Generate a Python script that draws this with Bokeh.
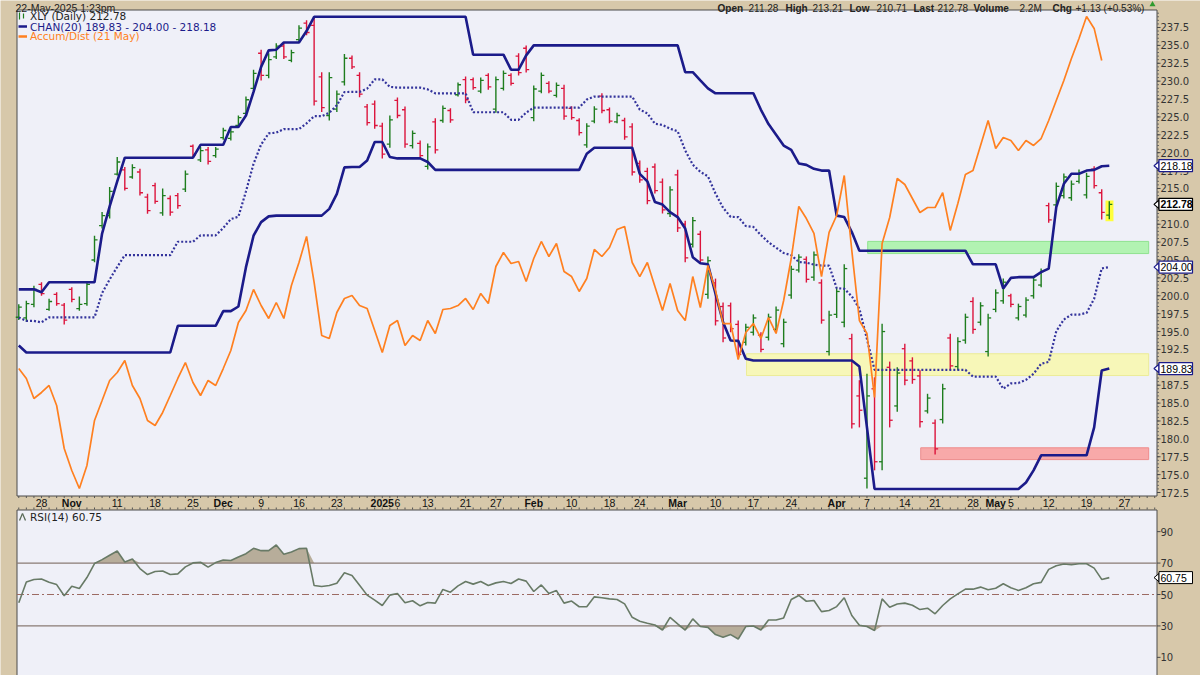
import numpy as np
from bokeh.plotting import figure
from bokeh.models import Range1d, ColumnDataSource
from bokeh.core.properties import value
from bokeh.embed import file_html
from bokeh.resources import INLINE

# ---------------- data ----------------
# trading-day index: 0 = Mon 28 Oct 2024 ... 141 = Thu 22 May 2025
day = np.arange(-3, 142)

opens = [197.0, 196.9, 198.8, 201.6, 198.1, 200.2, 198.7, 200.9, 198.2, 198.9,
         205.0, 209.8, 211.2, 217.0, 217.6, 216.6, 217.3, 213.8, 215.4, 211.6,
         213.6, 214.0, 214.9, 220.9, 219.0, 220.4, 219.6, 222.1, 222.0, 223.8,
         225.5, 229.0, 233.9, 230.8, 233.4, 234.9, 232.9, 235.8, 238.1, 237.8,
         230.6, 225.2, 226.1, 229.9, 233.2, 230.8, 226.4, 226.8, 223.7, 221.2,
         227.3, 226.0, 221.0, 221.3, 218.1, 224.3, 224.5, 225.9, 228.1, 230.2,
         230.2, 228.6, 230.8, 226.1, 229.0, 230.8, 233.5, 234.6, 224.9, 228.6,
         229.7, 228.0, 229.0, 226.2, 224.5, 221.1, 224.4, 227.9, 226.0, 224.3,
         224.5, 223.6, 218.5, 217.4, 218.0, 215.9, 211.5, 216.9, 210.0, 207.2,
         208.6, 200.2, 201.8, 198.5, 198.6, 196.0, 193.5, 194.9, 194.5, 194.2,
         195.3, 193.3, 200.1, 203.6, 205.1, 202.6, 201.8, 192.2, 197.4, 196.3,
         194.0, 186.0, 174.5, 187.0, 176.8, 190.0, 184.6, 192.6, 190.9, 188.8,
         183.9, 182.2, 182.7, 194.1, 190.1, 193.8, 199.2, 196.3, 192.2, 198.1,
         199.3, 200.0, 196.9, 197.3, 200.0, 201.5, 212.6, 212.7, 214.0, 213.7,
         216.0, 214.1, 217.7, 214.4, 211.28]
highs = [198.8, 199.3, 201.4, 201.9, 199.6, 200.5, 199.0, 201.2, 199.9, 201.9,
         208.4, 211.7, 215.2, 219.4, 218.0, 218.4, 217.75, 214.25, 215.8, 215.0,
         214.0, 214.35, 217.5, 221.15, 220.8, 220.8, 220.8, 223.5, 223.35, 225.2,
         227.85, 231.6, 234.4, 233.9, 235.3, 235.3, 234.4, 237.8, 238.5, 238.9,
         231.25, 231.25, 228.7, 233.8, 233.6, 231.25, 226.8, 227.3, 224.2, 225.2,
         227.7, 226.45, 223.1, 221.7, 221.3, 224.8, 226.6, 226.2, 229.8, 230.65,
         230.5, 230.5, 231.1, 230.65, 231.5, 231.1, 233.9, 235.0, 229.4, 231.2,
         230.0, 229.8, 229.5, 226.5, 224.8, 224.1, 226.5, 228.3, 226.3, 225.6,
         224.9, 224.1, 218.9, 217.9, 218.5, 216.4, 215.3, 217.6, 210.5, 211.0,
         209.1, 205.5, 202.4, 199.05, 199.05, 196.55, 196.1, 197.4, 194.9, 197.5,
         198.5, 196.8, 204.2, 205.8, 205.5, 206.2, 202.3, 197.9, 201.15, 204.4,
         194.7, 188.2, 189.1, 188.6, 196.1, 190.8, 190.0, 193.3, 191.4, 189.6,
         186.3, 182.7, 187.7, 194.7, 194.2, 197.5, 199.8, 199.1, 197.5, 200.9,
         202.4, 200.3, 198.9, 199.8, 202.7, 203.8, 213.0, 215.85, 217.1, 216.1,
         217.65, 217.2, 218.1, 214.9, 213.21]
lows = [196.6, 196.4, 198.4, 200.0, 197.9, 198.6, 196.0, 199.1, 197.9, 198.6,
        204.7, 209.4, 210.8, 216.8, 214.7, 216.35, 214.0, 211.45, 212.85, 211.2,
        211.2, 212.15, 214.5, 219.3, 218.7, 218.35, 219.3, 221.8, 221.7, 223.55,
        225.2, 228.7, 230.1, 230.4, 233.1, 233.1, 232.65, 235.45, 236.4, 226.6,
        225.7, 224.5, 225.7, 229.4, 231.7, 227.75, 223.8, 223.35, 219.2, 220.7,
        224.8, 220.7, 220.6, 219.2, 217.65, 219.9, 224.2, 224.2, 227.85, 226.9,
        228.8, 228.3, 228.8, 225.6, 228.7, 229.4, 230.8, 231.2, 224.4, 228.3,
        228.3, 227.7, 224.6, 224.6, 222.4, 220.7, 224.1, 225.5, 224.1, 224.1,
        221.8, 216.8, 215.8, 212.8, 214.3, 211.5, 211.0, 208.9, 204.7, 206.75,
        204.5, 199.6, 195.85, 193.5, 194.9, 191.2, 193.05, 194.45, 192.1, 193.75,
        194.9, 192.8, 199.6, 203.25, 201.85, 202.1, 196.1, 191.65, 196.9, 195.6,
        181.45, 181.6, 173.06, 175.6, 175.6, 181.6, 183.8, 187.5, 187.7, 181.6,
        183.55, 177.8, 182.15, 189.6, 189.6, 193.3, 194.7, 195.85, 191.5, 197.7,
        198.9, 198.4, 196.55, 196.96, 199.6, 201.2, 210.2, 212.3, 213.6, 213.3,
        215.7, 213.6, 215.0, 210.65, 210.71]
closes = [198.4, 198.9, 200.9, 200.3, 199.2, 198.9, 196.6, 199.5, 198.8, 201.6,
          207.8, 211.2, 214.6, 218.7, 215.0, 217.9, 214.4, 211.9, 213.2, 214.0,
          211.7, 212.6, 217.0, 219.7, 220.3, 218.8, 220.5, 223.1, 222.9, 224.9,
          227.4, 231.1, 230.8, 233.0, 234.9, 233.4, 234.0, 237.4, 236.8, 227.2,
          226.3, 230.5, 228.2, 233.2, 232.0, 228.2, 224.2, 223.8, 219.8, 224.6,
          225.2, 221.2, 222.7, 219.6, 220.8, 220.4, 226.2, 224.6, 229.5, 227.4,
          229.1, 230.1, 229.2, 230.2, 231.1, 229.7, 231.2, 231.6, 228.9, 230.8,
          228.6, 229.4, 225.1, 224.9, 222.8, 223.7, 226.1, 225.9, 224.4, 225.2,
          222.2, 217.3, 216.2, 213.3, 214.7, 212.0, 214.8, 209.5, 205.3, 210.5,
          205.0, 204.9, 196.5, 194.1, 195.4, 191.8, 195.6, 196.9, 192.5, 197.0,
          198.0, 196.3, 203.7, 205.4, 202.3, 205.7, 196.6, 197.3, 200.6, 203.8,
          182.1, 184.0, 186.0, 176.8, 195.0, 182.6, 189.2, 188.2, 188.3, 182.4,
          185.7, 178.6, 187.0, 190.2, 193.6, 197.0, 195.3, 198.6, 196.9, 200.4,
          201.9, 198.8, 198.5, 199.4, 202.2, 203.4, 210.6, 215.3, 216.6, 215.6,
          217.2, 216.7, 215.4, 211.65, 212.78]

chan_upper = [200.9, 200.9, 200.9, 200.5, 201.9, 201.9, 201.9, 201.9, 201.9, 201.9,
              201.9, 208.7, 212.5, 216.0, 219.3, 219.3, 219.3, 219.3, 219.3, 219.3,
              219.3, 219.3, 219.3, 219.3, 221.1, 221.1, 221.1, 221.1, 223.6, 223.6,
              225.2, 228.5, 232.0, 234.3, 234.4, 235.4, 235.4, 235.4, 237.0, 239.0,
              239.0, 239.0, 239.0, 239.0, 239.0, 239.0, 239.0, 239.0, 239.0, 239.0,
              239.0, 239.0, 239.0, 239.0, 239.0, 239.0, 239.0, 239.0, 239.0, 239.0,
              233.7, 233.7, 233.7, 233.7, 233.7, 231.6, 231.6, 233.6, 235.0, 235.0,
              235.0, 235.0, 235.0, 235.0, 235.0, 235.0, 235.0, 235.0, 235.0, 235.0,
              235.0, 235.0, 235.0, 235.0, 235.0, 235.0, 235.0, 235.0, 231.25, 231.25,
              230.1, 229.0, 228.3, 228.3, 228.3, 228.3, 228.3, 228.3, 226.0, 224.0,
              222.5, 221.0, 220.4, 218.5, 218.3, 217.75, 217.5, 217.5, 211.2, 211.0,
              208.9, 206.3, 206.3, 206.3, 206.3, 206.3, 206.3, 206.3, 206.3, 206.3,
              206.3, 206.3, 206.3, 206.3, 206.3, 206.3, 204.4, 204.4, 204.4, 204.4,
              201.0, 202.5, 202.6, 202.6, 202.6, 203.3, 203.8, 212.4, 215.65, 217.05,
              217.05, 217.5, 217.6, 218.1, 218.18]
chan_lower = [193.05, 192.07, 192.07, 192.07, 192.07, 192.07, 192.07, 192.07, 192.07, 192.07,
              192.07, 192.07, 192.07, 192.07, 192.07, 192.07, 192.07, 192.07, 192.07, 192.07,
              192.07, 195.8, 195.8, 195.8, 195.8, 195.8, 195.8, 197.85, 197.85, 198.5,
              204.0, 208.4, 210.3, 211.1, 211.2, 211.2, 211.2, 211.2, 211.2, 211.2,
              211.2, 212.15, 214.25, 217.95, 218.0, 218.0, 218.9, 221.5, 221.5, 219.4,
              219.2, 219.2, 219.2, 219.2, 218.7, 217.6, 217.6, 217.6, 217.6, 217.6,
              217.6, 217.6, 217.6, 217.6, 217.6, 217.6, 217.6, 217.6, 217.6, 217.6,
              217.6, 217.6, 217.6, 217.6, 217.6, 219.85, 220.7, 220.7, 220.7, 220.7,
              220.7, 220.7, 217.05, 216.0, 213.1, 212.75, 211.7, 211.0, 209.4, 205.4,
              204.55, 204.4, 200.3, 196.3, 193.75, 193.7, 191.2, 190.95, 190.95, 190.95,
              190.95, 190.95, 190.95, 190.95, 190.95, 190.95, 190.95, 190.95, 190.95, 190.95,
              190.95, 190.1, 181.6, 173.0, 173.0, 173.0, 173.0, 173.0, 173.0, 173.0,
              173.0, 173.0, 173.0, 173.0, 173.0, 173.0, 173.0, 173.0, 173.0, 173.0,
              173.0, 173.0, 173.0, 173.9, 175.6, 177.7, 177.7, 177.7, 177.7, 177.7,
              177.7, 177.7, 181.6, 189.55, 189.83]

# Accumulation/Distribution line (to 21 May), expressed on the price-pane scale
accum_dist = [189.83, 188.44, 185.64, 186.48, 187.46, 184.66, 178.65, 175.58, 173.06, 176.28,
              182.57, 185.36, 188.16, 189.27, 190.95, 187.46, 185.64, 182.57, 181.87, 183.69,
              186.06, 188.44, 190.67, 187.88, 186.06, 188.16, 187.46, 189.83, 192.35, 196.27,
              197.94, 200.88, 198.64, 196.83, 199.06, 196.83, 201.44, 204.65, 208.29, 201.86,
              194.45, 194.03, 197.66, 199.62, 200.04, 198.64, 198.22, 195.15, 192.07, 195.85,
              196.54, 193.05, 194.45, 193.75, 196.54, 194.73, 198.08, 198.22, 198.64, 199.62,
              198.08, 200.32, 198.92, 204.09, 206.05, 204.51, 204.79, 201.99, 205.21, 207.59,
              205.49, 207.31, 203.39, 202.69, 200.60, 202.41, 206.47, 205.49, 206.75, 209.27,
              209.69, 204.65, 202.69, 204.65, 201.30, 197.94, 201.72, 197.94, 196.54, 202.69,
              198.36, 204.23, 200.74, 196.12, 196.12, 191.09, 194.87, 196.12, 194.03, 196.96,
              194.73, 199.34, 205.21, 212.48, 210.80, 208.71, 202.69, 208.85, 211.22, 216.81,
              206.33, 196.54, 194.73, 185.78, 207.31, 210.94, 216.39, 215.55, 213.60, 211.64,
              212.34, 212.34, 214.43, 209.13, 212.90, 216.95, 217.51, 221.01, 224.50, 220.59,
              222.12, 221.70, 220.31, 221.70, 221.01, 221.98, 224.50, 227.30, 230.09, 233.17,
              235.96, 239.04, 237.37, 232.89]

rsi = [44.7, 58.0, 59.5, 59.9, 57.8, 56.3, 49.2, 55.3, 53.8, 60.8,
       69.7, 72.2, 75.0, 77.7, 70.7, 72.6, 66.5, 62.7, 64.6, 65.0,
       62.7, 63.1, 67.6, 70.1, 70.5, 67.4, 70.3, 72.0, 71.6, 73.9,
       76.0, 79.4, 77.9, 77.9, 81.5, 75.6, 77.1, 79.2, 79.4, 55.7,
       55.1, 55.7, 57.2, 63.8, 62.1, 55.9, 49.6, 46.4, 43.0, 49.6,
       50.6, 44.7, 46.0, 42.8, 44.9, 44.5, 53.2, 51.5, 55.5, 58.3,
       56.6, 58.3, 55.7, 57.4, 58.3, 57.0, 59.9, 58.5, 51.9, 56.1,
       50.6, 52.5, 44.5, 45.8, 42.2, 42.2, 48.5,
       47.9, 47.2, 46.8, 44.0, 35.5, 33.0, 31.7, 30.6, 27.4, 35.5,
       31.3, 27.4, 34.5, 29.6, 29.1, 24.5, 22.8, 24.5, 21.7, 29.6,
       30.0, 27.4, 33.8, 33.8, 35.1, 46.8, 49.4, 45.7, 46.2, 39.1,
       39.8, 42.3, 47.9, 36.6, 30.4, 29.6, 27.0, 47.2, 41.9, 44.0,
       44.5, 43.2, 40.4, 41.3, 37.7, 43.0, 47.2, 50.4, 53.4, 53.4,
       54.7, 53.0, 54.0, 56.8, 54.3, 52.6, 54.3, 56.8, 57.7, 66.0,
       68.3, 69.4, 68.9, 69.6, 69.6, 66.8, 59.6, 60.75]

price_ticks = [172.5, 175.0, 177.5, 180.0, 182.5, 185.0, 187.5, 190.0, 192.5, 195.0,
               197.5, 200.0, 202.5, 205.0, 207.5, 210.0, 212.5, 215.0, 217.5, 220.0,
               222.5, 225.0, 227.5, 230.0, 232.5, 235.0, 237.5]
rsi_ticks = [10, 30, 50, 70, 90]

date_ticks = [0, 4, 10, 15, 20, 24, 29, 34, 39, 45, 47, 51, 56, 60, 65, 70,
              75, 79, 84, 89, 94, 99, 105, 109, 114, 118, 123, 126, 128, 133, 138, 143]
date_labels = ["28", "Nov", "11", "18", "25", "Dec", "9", "16", "23", "2025", "6", "13",
               "21", "27", "Feb", "10", "18", "24", "Mar", "10", "17", "24", "Apr", "7",
               "14", "21", "28", "May", "5", "12", "19", "27"]
month_labels = {"Nov", "Dec", "2025", "Feb", "Mar", "Apr", "May"}

chart_stamp = "22-May-2025 1:23pm"
quote_header = [("Open", True), ("%.2f" % opens[-1], False), ("High", True), ("%.2f" % highs[-1], False),
                ("Low", True), ("%.2f" % lows[-1], False), ("Last", True), ("%.2f" % closes[-1], False),
                ("Volume", True), ("2.2M", False), ("Chg", True), ("+1.13 (+0.53%)", False)]

# ---------------- geometry & styling ----------------
TAN = "#d7c8aa"
PANEL = "#eff0f8"
FRAME = "#4a4a4a"
NAVY = "#1b1b8a"
NAVY_DOT = "#34349c"
ORANGE = "#ff8020"
UP = "#1e7d1e"
DOWN = "#dc143c"
FONT = "DejaVu Sans"
HFONT = "Liberation Sans"
W, H = 1200, 675


def dx(px):          # page x pixel -> trading-day coordinate
    return (px - 41.0) / 7.573


def py_price(py):    # page y pixel -> price coordinate
    return 241.274 - py / 7.154


def py_rsi(py):      # page y pixel -> RSI coordinate
    return 50.0 + (594.0 - py) / 1.5714


PX_L, PX_R = 16.5, 1156.5
X_L, X_R = dx(PX_L), dx(PX_R)
P_TOP, P_BOT = py_price(9.5), py_price(495.5)
R_TOP, R_BOT = py_rsi(509.5), py_rsi(680)

p = figure(width=W, height=H, x_range=Range1d(dx(0), dx(W)),
           y_range=Range1d(py_price(H), py_price(0)),
           output_backend="svg", toolbar_location=None,
           x_axis_location=None, y_axis_location=None, min_border=0)
p.extra_y_ranges = {"rsi": Range1d(py_rsi(H), py_rsi(0))}
p.xgrid.visible = False
p.ygrid.visible = False
p.outline_line_color = None
p.background_fill_color = TAN
p.border_fill_color = TAN


def txt(x, y, s, size="10px", font=FONT, color="#222222", style="normal", align="left",
        baseline="middle", yr="default"):
    p.text(x=x, y=y, text=s, text_font=value(font), text_font_size=value(size),
           text_color=color, text_font_style=style, text_align=align, text_baseline=baseline,
           y_range_name=yr)


# ---------- panels ----------
p.quad(left=[X_L], right=[X_R], bottom=[P_BOT], top=[P_TOP], fill_color=PANEL,
       line_color=FRAME, line_width=1)
p.quad(left=[X_L], right=[X_R], bottom=[R_BOT], top=[R_TOP], fill_color=PANEL,
       line_color=FRAME, line_width=1, y_range_name="rsi")

# ---------- highlight zones ----------
zones = [
    dict(left=109.1, right=146.2, bottom=205.9, top=207.6, fill="#b2f3b2", line="#8fe28f"),
    dict(left=93.1, right=146.2, bottom=188.85, top=191.9, fill="#f7f7b8", line="#ecec98"),
    dict(left=116.1, right=146.2, bottom=177.1, top=178.75, fill="#f8a9a9", line="#ee8c8c"),
]
for z in zones:
    p.quad(left=[z["left"]], right=[z["right"]], bottom=[z["bottom"]], top=[z["top"]],
           fill_color=z["fill"], line_color=z["line"], line_width=1)

# highlight of the latest bar
p.quad(left=[day[-1] - 0.5], right=[day[-1] + 0.55], bottom=[lows[-1] - 0.3], top=[highs[-1] + 0.1],
       fill_color="#ffff3c", line_color=None)

# ---------- OHLC bars ----------
bar_color = [UP if c >= o else DOWN for o, c in zip(opens, closes)]
src = ColumnDataSource(dict(x=day, xl=day - 0.4, xr=day + 0.4, o=opens, h=highs, l=lows, c=closes,
                            color=bar_color))
p.segment(x0="x", y0="l", x1="x", y1="h", color="color", line_width=1.4, source=src)
p.segment(x0="xl", y0="o", x1="x", y1="o", color="color", line_width=1.3, source=src)
p.segment(x0="x", y0="c", x1="xr", y1="c", color="color", line_width=1.3, source=src)

# ---------- price channel ----------
chan_mid = (np.array(chan_upper) + np.array(chan_lower)) / 2.0
p.line(day, chan_upper, color=NAVY, line_width=2.6)
p.line(day, chan_lower, color=NAVY, line_width=2.6)
p.line(day, chan_mid, color=NAVY_DOT, line_width=2.2, line_dash="2 2")

# ---------- accumulation / distribution ----------
p.line(day[:len(accum_dist)], accum_dist, color=ORANGE, line_width=1.7)

# ---------- price legend ----------
p.segment(x0=[dx(19), dx(23)], y0=[py_price(19), py_price(18)], x1=[dx(19), dx(23)],
          y1=[py_price(12), py_price(13)], color=[UP, UP], line_width=1.2)
p.segment(x0=[dx(18)], y0=[py_price(26)], x1=[dx(26.5)], y1=[py_price(26)], color=NAVY, line_width=2.6)
p.segment(x0=[dx(18)], y0=[py_price(36)], x1=[dx(26.5)], y1=[py_price(36)], color=ORANGE, line_width=2.6)
legend_rows = [
    (15.8, "XLY (Daily) %.2f" % closes[-1], "#222222"),
    (26.0, "CHAN(20) %.2f - %.2f - %.2f" % (chan_lower[-1], chan_mid[-1], chan_upper[-1]), NAVY),
    (35.8, "Accum/Dist (21 May)", ORANGE),
]
for yy, s, col in legend_rows:
    txt([dx(29.5)], [py_price(yy)], [s], size="10.5px", color=col)

# ---------- header line ----------
txt([dx(15)], [py_price(7.5)], [chart_stamp], size="10.5px", font=HFONT, baseline="alphabetic")
hdr_x = [717, 748, 785, 812, 849, 876, 913, 937, 973, 1019, 1052, 1075]
for (s, bold), hx in zip(quote_header, hdr_x):
    txt([dx(hx)], [py_price(7.5)], [s], size="10px", font=HFONT,
        style="bold" if bold else "normal", baseline="alphabetic")
p.scatter(x=[dx(1152)], y=[py_price(4)], marker="triangle", size=6, fill_color="#2e9b2e",
          line_color=None)

# ---------- price axis (right) ----------
minor = np.arange(172.5, 239.6, 0.5)
p.segment(x0=[X_R] * len(minor), y0=list(minor), x1=[dx(PX_R + 2)] * len(minor), y1=list(minor),
          color="#666666", line_width=1)
p.segment(x0=[X_R] * len(price_ticks), y0=price_ticks, x1=[dx(PX_R + 3.5)] * len(price_ticks),
          y1=price_ticks, color=FRAME, line_width=1)
txt([dx(1160)] * len(price_ticks), price_ticks, ["%.1f" % t for t in price_ticks], color="#333333")

# ---------- date strip ----------
strip_days = np.arange(-3, 148)
p.segment(x0=strip_days, y0=[py_price(495.5)] * len(strip_days), x1=strip_days,
          y1=[py_price(497.5)] * len(strip_days), color="#555555", line_width=1)
p.segment(x0=strip_days, y0=[py_price(507)] * len(strip_days), x1=strip_days,
          y1=[py_price(509)] * len(strip_days), color="#555555", line_width=1)
reg = [(t, s) for t, s in zip(date_ticks, date_labels) if s not in month_labels]
bld = [(t, s) for t, s in zip(date_ticks, date_labels) if s in month_labels]
txt([t for t, _ in reg], [py_price(502.5)] * len(reg), [s for _, s in reg], size="10.5px",
    font=HFONT, color="#111111", align="center")
txt([t for t, _ in bld], [py_price(502.5)] * len(bld), [s for _, s in bld], size="10.5px",
    font=HFONT, color="#111111", style="bold", align="center")

# ---------- value tags on the price axis ----------
tags = [(chan_upper[-1], NAVY, "normal"), (closes[-1], "#000000", "bold"),
        (chan_mid[-1], NAVY, "normal"), (chan_lower[-1], NAVY, "normal")]
half = 6.0 / 7.154
for v, col, sty in tags:
    p.patch(x=[dx(1153.5), dx(1158.5), dx(1158.5)], y=[v, v + 0.6, v - 0.6], fill_color="white",
            line_color=col, line_width=1.2)
    p.quad(left=[dx(1158.5)], right=[dx(1192)], bottom=[v - half], top=[v + half],
           fill_color="white", line_color=col, line_width=1.2)
    txt([dx(1160)], [v], ["%.2f" % v], size="10.5px", font=HFONT, color="#000000", style=sty)

# ---------- RSI pane ----------
rsi_arr = np.array(rsi)
p.varea(x=day, y1=70, y2=np.maximum(rsi_arr, 70), fill_color="#b7ad9a", y_range_name="rsi")
p.varea(x=day, y1=np.minimum(rsi_arr, 30), y2=30, fill_color="#b7ad9a", y_range_name="rsi")
p.segment(x0=[X_L, X_L], y0=[70, 30], x1=[X_R, X_R], y1=[70, 30], color="#8a7b74", line_width=1.3,
          y_range_name="rsi")
p.segment(x0=[X_L], y0=[50], x1=[X_R], y1=[50], color="#9c6a62", line_width=1.1,
          line_dash="7 3 2 3", y_range_name="rsi")
p.line(day, rsi, color="#687a66", line_width=1.6, y_range_name="rsi")

p.segment(x0=[X_R] * len(rsi_ticks), y0=rsi_ticks, x1=[dx(PX_R + 3.5)] * len(rsi_ticks),
          y1=rsi_ticks, color=FRAME, line_width=1, y_range_name="rsi")
txt([dx(1160)] * len(rsi_ticks), rsi_ticks, [str(t) for t in rsi_ticks], color="#333333", yr="rsi")

p.segment(x0=[dx(19), dx(22)], y0=[py_rsi(520), py_rsi(513)], x1=[dx(22), dx(25)],
          y1=[py_rsi(513), py_rsi(520)], color="#5a6a58", line_width=1.3, y_range_name="rsi")
txt([dx(29.5)], [py_rsi(516.5)], ["RSI(14) %.2f" % rsi[-1]], size="10.5px", yr="rsi")

rv = rsi[-1]
rh = 6.0 / 1.5714
p.patch(x=[dx(1153.5), dx(1158.5), dx(1158.5)], y=[rv, rv + 2.6, rv - 2.6], fill_color="white",
        line_color="#000000", line_width=1, y_range_name="rsi")
p.quad(left=[dx(1158.5)], right=[dx(1192)], bottom=[rv - rh], top=[rv + rh], fill_color="white",
       line_color="#000000", line_width=1, y_range_name="rsi")
txt([dx(1160)], [rv], ["%.2f" % rv], size="10.5px", font=HFONT, color="#000000", yr="rsi")

open("out.html", "w").write(file_html(p, INLINE))
